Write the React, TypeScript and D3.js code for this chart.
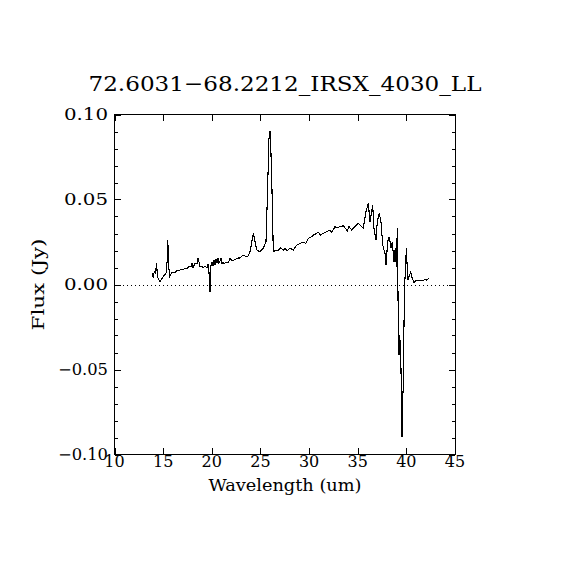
import React, { useRef, useEffect } from 'react';
import * as d3 from 'd3';

// Spectrum (wavelength in um, flux in Jy)
const wavelength = [
  13.88, 13.98, 14.08, 14.22, 14.32, 14.42, 14.66, 14.83, 15.14, 15.32,
  15.42, 15.48, 15.55, 15.65, 15.85, 16.01, 16.22, 16.42, 16.63, 16.84,
  17.04, 17.25, 17.45, 17.66, 17.86, 17.97, 18.07, 18.27, 18.48, 18.58,
  18.69, 18.79, 18.99, 19.10, 19.30, 19.51, 19.61, 19.71, 19.82, 19.92,
  20.02, 20.13, 20.23, 20.33, 20.43, 20.54, 20.64, 20.74, 20.84, 20.95,
  21.05, 21.15, 21.25, 21.46, 21.67, 21.77, 21.87, 22.08, 22.28, 22.49,
  22.69, 22.90, 23.10, 23.31, 23.51, 23.72, 23.93, 24.27, 24.62, 24.96,
  25.29, 25.57, 25.71, 25.88, 25.98, 26.09, 26.22, 26.32, 26.50, 26.84,
  27.08, 27.35, 27.53, 27.76, 28.04, 28.38, 28.73, 29.07, 29.41, 29.68,
  29.92, 30.27, 30.43, 30.78, 30.95, 31.19, 31.46, 31.81, 32.15, 32.33,
  32.66, 32.90, 33.18, 33.52, 33.93, 34.10, 34.38, 34.72, 35.06, 35.23,
  35.57, 35.85, 36.09, 36.26, 36.54, 36.67, 36.88, 37.01, 37.22, 37.39,
  37.57, 37.80, 37.91, 38.08, 38.25, 38.42, 38.55, 38.73, 38.86, 38.97,
  39.07, 39.17, 39.24, 39.31, 39.42, 39.48, 39.55, 39.62, 39.68, 39.76,
  39.86, 39.93, 39.99, 40.06, 40.17, 40.27, 40.45, 40.61, 40.78, 41.06,
  41.40, 41.68, 41.91, 42.09, 42.33,
];

const flux = [
  0.0069, 0.0036, 0.0075, 0.0065, 0.0125, 0.0046, 0.0017, 0.0031, 0.0056, 0.0070,
  0.0144, 0.0262, 0.0134, 0.0046, 0.0066, 0.0074, 0.0070, 0.0085, 0.0079, 0.0091,
  0.0085, 0.0097, 0.0091, 0.0109, 0.0103, 0.0126, 0.0097, 0.0126, 0.0121, 0.0156,
  0.0132, 0.0103, 0.0109, 0.0097, 0.0109, 0.0097, 0.0121, 0.0074, -0.0044, 0.0115,
  0.0132, 0.0109, 0.0144, 0.0115, 0.0150, 0.0126, 0.0156, 0.0126, 0.0138, 0.0156,
  0.0121, 0.0132, 0.0121, 0.0132, 0.0126, 0.0138, 0.0156, 0.0138, 0.0144, 0.0150,
  0.0156, 0.0156, 0.0168, 0.0174, 0.0162, 0.0168, 0.0193, 0.0301, 0.0203, 0.0193,
  0.0213, 0.0252, 0.0509, 0.0860, 0.0903, 0.0762, 0.0487, 0.0197, 0.0197, 0.0203,
  0.0216, 0.0203, 0.0213, 0.0199, 0.0213, 0.0203, 0.0232, 0.0242, 0.0248, 0.0242,
  0.0272, 0.0281, 0.0291, 0.0301, 0.0307, 0.0291, 0.0301, 0.0311, 0.0321, 0.0307,
  0.0340, 0.0334, 0.0340, 0.0346, 0.0315, 0.0340, 0.0321, 0.0340, 0.0360, 0.0350,
  0.0331, 0.0428, 0.0478, 0.0369, 0.0468, 0.0331, 0.0262, 0.0369, 0.0419, 0.0369,
  0.0232, 0.0184, 0.0115, 0.0252, 0.0281, 0.0213, 0.0252, 0.0134, 0.0213, 0.0105,
  0.0331, -0.0219, -0.0415, -0.0297, -0.0395, -0.0611, -0.0895, -0.0669, -0.0611, -0.0219,
  0.0036, 0.0095, 0.0213, 0.0134, 0.0026, 0.0046, 0.0072, 0.0036, 0.0013, 0.0026,
  0.0026, 0.0021, 0.0032, 0.0026, 0.0036,
];

const xTicks = [10, 15, 20, 25, 30, 35, 40, 45];
const yTicks = [-0.10, -0.05, 0.0, 0.05, 0.10];
const yTickLabels = ['\u22120.10', '\u22120.05', '0.00', '0.05', '0.10'];

const TITLE = '72.6031\u221268.2212_IRSX_4030_LL';
const X_TITLE = 'Wavelength (um)';
const Y_TITLE = 'Flux (Jy)';

const FONT = '"DejaVu Serif", serif';

const App: React.FC = () => {
  const svgRef = useRef<SVGSVGElement | null>(null);

  useEffect(() => {
    if (!svgRef.current) return;
    const width = 570;
    const height = 570;
    const left = 114.5, right = 455, top = 114.5, bottom = 454.5;

    const svg = d3.select(svgRef.current);
    svg.selectAll('*').remove();
    svg.attr('width', width).attr('height', height);

    svg.append('rect')
      .attr('width', width).attr('height', height).attr('fill', 'white');

    const x = d3.scaleLinear().domain([10, 45]).range([left, right]);
    const y = d3.scaleLinear().domain([-0.1, 0.1]).range([bottom, top]);

    const axes = svg.append('g')
      .attr('stroke', 'black')
      .attr('stroke-width', 1)
      .attr('shape-rendering', 'crispEdges');

    // frame
    axes.append('rect')
      .attr('x', left).attr('y', top)
      .attr('width', right - left).attr('height', bottom - top)
      .attr('fill', 'none');

    const major = 6.5;
    const minor = 3.3;

    // x ticks, bottom and top
    xTicks.forEach(t => {
      const xp = Math.round(x(t)) + 0.5;
      axes.append('line').attr('x1', xp).attr('x2', xp).attr('y1', bottom).attr('y2', bottom - major);
      axes.append('line').attr('x1', xp).attr('x2', xp).attr('y1', top).attr('y2', top + major);
    });

    // y ticks, left and right (minor every 0.01)
    const yMinor = y.ticks(20);
    yMinor.forEach(t => {
      const isMajor = yTicks.some(m => Math.abs(m - t) < 1e-9);
      const len = isMajor ? major : minor;
      const yp = Math.round(y(t)) + 0.5;
      axes.append('line').attr('x1', left).attr('x2', left + len).attr('y1', yp).attr('y2', yp);
      axes.append('line').attr('x1', right).attr('x2', right - len).attr('y1', yp).attr('y2', yp);
    });

    // zero line (dotted)
    svg.append('line')
      .attr('x1', left).attr('x2', right)
      .attr('y1', Math.round(y(0)) + 0.5).attr('y2', Math.round(y(0)) + 0.5)
      .attr('stroke', 'black')
      .attr('stroke-width', 1)
      .attr('stroke-dasharray', '1,3')
      .attr('shape-rendering', 'crispEdges');

    // spectrum
    const pts = wavelength.map((w, i) => [w, flux[i]] as [number, number]);
    const line = d3.line<[number, number]>()
      .x(d => x(d[0]))
      .y(d => y(d[1]));

    svg.append('path')
      .datum(pts)
      .attr('fill', 'none')
      .attr('stroke', 'black')
      .attr('stroke-width', 1.1)
      .attr('shape-rendering', 'crispEdges')
      .attr('d', line);

    // tick labels
    xTicks.forEach(t => {
      svg.append('text')
        .attr('x', x(t))
        .attr('y', 467)
        .attr('text-anchor', 'middle')
        .attr('font-family', FONT)
        .attr('font-size', 16)
        .attr('fill', 'black')
        .text(String(t));
    });

    yTicks.forEach((t, i) => {
      const label = yTickLabels[i];
      svg.append('text')
        .attr('x', 108)
        .attr('y', y(t) + 5)
        .attr('text-anchor', 'end')
        .attr('font-family', FONT)
        .attr('font-size', 16)
        .attr('fill', 'black')
        .attr('textLength', label.startsWith('\u2212') ? 50 : 44)
        .attr('lengthAdjust', 'spacingAndGlyphs')
        .text(label);
    });

    // titles
    svg.append('text')
      .attr('x', 285)
      .attr('y', 90.5)
      .attr('text-anchor', 'middle')
      .attr('font-family', FONT)
      .attr('font-size', 21)
      .attr('fill', 'black')
      .attr('textLength', 393)
      .attr('lengthAdjust', 'spacingAndGlyphs')
      .text(TITLE);

    svg.append('text')
      .attr('x', 285)
      .attr('y', 491)
      .attr('text-anchor', 'middle')
      .attr('font-family', FONT)
      .attr('font-size', 16)
      .attr('fill', 'black')
      .attr('textLength', 153)
      .attr('lengthAdjust', 'spacingAndGlyphs')
      .text(X_TITLE);

    svg.append('text')
      .attr('transform', `translate(44, ${(top + bottom) / 2}) rotate(-90)`)
      .attr('text-anchor', 'middle')
      .attr('font-family', FONT)
      .attr('font-size', 16)
      .attr('fill', 'black')
      .attr('textLength', 92)
      .attr('lengthAdjust', 'spacingAndGlyphs')
      .text(Y_TITLE);
  }, []);

  return (
    <svg
      ref={svgRef}
      style={{ position: 'absolute', left: 0, top: 0, display: 'block' }}
    />
  );
};

export default App;
